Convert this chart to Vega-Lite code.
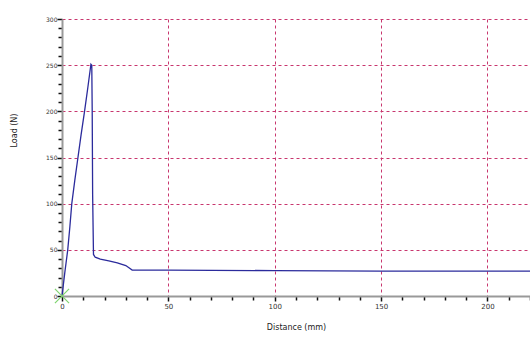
{
  "$schema": "https://vega.github.io/schema/vega-lite/v6.json",
  "autosize": "none",
  "width": 468,
  "height": 277,
  "padding": {"left": 62, "top": 19, "right": 0, "bottom": 42},
  "background": "white",
  "config": {
    "view": {"stroke": null},
    "axis": {"labelFont": "DejaVu Sans", "titleFont": "DejaVu Sans", "labelColor": "#333", "titleColor": "#222", "titleFontWeight": "normal"}
  },
  "datasets": {
    "curve": [
      {"i": 0, "d": 0, "load": 0},
      {"i": 1, "d": 1.3, "load": 25},
      {"i": 2, "d": 2.7, "load": 50},
      {"i": 3, "d": 3.7, "load": 75},
      {"i": 4, "d": 4.6, "load": 100},
      {"i": 5, "d": 6.0, "load": 125},
      {"i": 6, "d": 7.5, "load": 150},
      {"i": 7, "d": 9.0, "load": 175},
      {"i": 8, "d": 10.6, "load": 200},
      {"i": 9, "d": 12.1, "load": 225},
      {"i": 10, "d": 13.6, "load": 251},
      {"i": 11, "d": 14.0, "load": 250},
      {"i": 12, "d": 14.2, "load": 200},
      {"i": 13, "d": 14.4, "load": 110},
      {"i": 14, "d": 14.8, "load": 45},
      {"i": 15, "d": 15.6, "load": 42},
      {"i": 16, "d": 18, "load": 40},
      {"i": 17, "d": 22, "load": 38},
      {"i": 18, "d": 26, "load": 36},
      {"i": 19, "d": 30, "load": 33},
      {"i": 20, "d": 33, "load": 28},
      {"i": 21, "d": 50, "load": 28},
      {"i": 22, "d": 100, "load": 27.5},
      {"i": 23, "d": 150, "load": 27},
      {"i": 24, "d": 200, "load": 27},
      {"i": 25, "d": 220, "load": 27}
    ],
    "origin": [{"d": 0, "load": 0}]
  },
  "encoding": {
    "x": {
      "field": "d", "type": "quantitative",
      "scale": {"domain": [0, 220], "nice": false, "zero": false},
      "axis": {
        "title": "Distance (mm)",
        "values": [0,10,20,30,40,50,60,70,80,90,100,110,120,130,140,150,160,170,180,190,200,210,220],
        "labelExpr": "datum.value % 50 == 0 ? datum.label : ''",
        "labelFontSize": 7,
        "labelPadding": 1,
        "labelFlush": false,
        "labelOverlap": false,
        "tickSize": {"condition": {"test": "datum.value % 50 == 0", "value": 5}, "value": 4},
        "tickColor": "#111",
        "tickWidth": 1.5,
        "domainColor": "#999",
        "domainWidth": 2,
        "grid": true,
        "gridColor": "#c8366e",
        "gridDash": [3, 3],
        "gridWidth": 1,
        "gridOpacity": {"condition": {"test": "datum.value % 50 == 0 && datum.value > 0", "value": 1}, "value": 0},
        "titleFontSize": 8,
        "titlePadding": 14
      }
    },
    "y": {
      "field": "load", "type": "quantitative",
      "scale": {"domain": [0, 300], "nice": false},
      "axis": {
        "title": "Load (N)",
        "values": [0,10,20,30,40,50,60,70,80,90,100,110,120,130,140,150,160,170,180,190,200,210,220,230,240,250,260,270,280,290,300],
        "labelExpr": "datum.value % 50 == 0 ? datum.label : ''",
        "labelFontSize": 6,
        "labelPadding": 0,
        "labelFlush": false,
        "labelOverlap": false,
        "tickSize": {"condition": {"test": "datum.value % 50 == 0", "value": 5}, "value": 4},
        "tickColor": "#111",
        "tickWidth": 1.5,
        "domainColor": "#999",
        "domainWidth": 2,
        "grid": true,
        "gridColor": "#c8366e",
        "gridDash": [3, 3],
        "gridWidth": 1,
        "gridOpacity": {"condition": {"test": "datum.value % 50 == 0 && datum.value > 0", "value": 1}, "value": 0},
        "titleFontSize": 8,
        "titleX": -44,
        "titleY": 111,
        "titleAnchor": null
      }
    }
  },
  "layer": [
    {
      "data": {"name": "curve"},
      "mark": {"type": "line", "color": "#2b2b9c", "strokeWidth": 1.3},
      "encoding": {"order": {"field": "i", "type": "quantitative"}}
    },
    {
      "data": {"name": "origin"},
      "mark": {"type": "point", "shape": "M-1,-1L1,1M-1,1L1,-1", "filled": false, "stroke": "#7fd46f", "strokeWidth": 1.2, "size": 200, "opacity": 1}
    }
  ]
}
